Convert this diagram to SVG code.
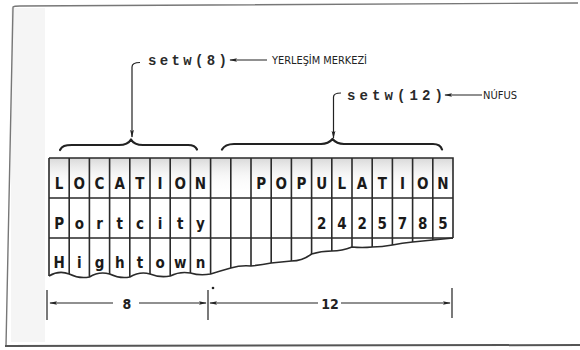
<svg xmlns="http://www.w3.org/2000/svg" width="580" height="350" viewBox="0 0 580 350">
  <defs>
    <linearGradient id="shade" x1="0" y1="0" x2="0" y2="1">
      <stop offset="0" stop-color="#c8c8c8" stop-opacity="0.7"/>
      <stop offset="0.45" stop-color="#e6e6e6" stop-opacity="0.3"/>
      <stop offset="1" stop-color="#ffffff" stop-opacity="0"/>
    </linearGradient>
    <marker id="ah" viewBox="0 0 10 6" refX="9" refY="3" markerWidth="8" markerHeight="4.8" markerUnits="userSpaceOnUse" orient="auto">
      <path d="M0,0.6 L10,3 L0,5.4 L2,3 Z" fill="#222"/>
    </marker>
    <style>
      .frame { fill: none; stroke: #777; stroke-width: 1.4; }
      .grid { fill: none; stroke: #2a2a2a; stroke-width: 1.6; }
      .cell { font-family: "Liberation Sans Narrow", "DejaVu Sans Condensed", "Liberation Sans", sans-serif; font-weight: bold; font-size: 15px; fill: #1a1a1a; text-anchor: middle; }
      .code { font-family: "Liberation Mono", "DejaVu Sans Mono", monospace; font-weight: bold; font-size: 14px; fill: #2a2a2a; }
      .lab { font-family: "Liberation Sans Narrow", "DejaVu Sans Condensed", "Liberation Sans", sans-serif; font-size: 11px; fill: #222; }
      .dim { font-family: "Liberation Sans Narrow", "DejaVu Sans Condensed", "Liberation Sans", sans-serif; font-weight: bold; font-size: 14px; fill: #222; text-anchor: middle; }
      .ln { fill: none; stroke: #222; stroke-width: 1.2; }
      .brace { fill: none; stroke: #222; stroke-width: 2.2; stroke-linecap: round; stroke-linejoin: round; }
    </style>
  </defs>

  <rect width="580" height="350" fill="#ffffff"/>

  <g id="page-frame">
    <rect x="11" y="8" width="34" height="334" fill="#ececec" opacity="0.55"/>
    <path class="frame" d="M6,346 L13,7 Q14,6 20,6 L578,3"/>
    <path d="M5,346 L580,345" fill="none" stroke="#555" stroke-width="2"/>
  </g>

  <g id="table">
    <rect x="49" y="158" width="404" height="40" fill="url(#shade)"/>
    <path class="grid" d="M49,158 H453 V238 M49,198 H453 M49,238 H453 M49,158 V276"/>
    <path class="grid" d="M49,276 Q59,270 69.2,274 Q79,279 89.4,277 Q99,271 109.6,274 Q120,279 129.8,277 Q140,271 150,274 Q160,278 170.2,276 Q180,271 190.4,273 Q200,276 210.6,274 Q220,271 230.8,268 Q241,265 251,266 Q261,265 271.2,263 Q281,262 291.4,261 Q302,261 311.6,254 Q321,251 331.8,251 Q342,251 352,247 Q362,248 372.2,247 Q382,247 392.4,245 Q402,243 412.6,242 Q423,241 432.8,240 Q443,239 453,238"/>
    <path class="grid" d="M69.2,158 V274 M89.4,158 V277 M109.6,158 V274 M129.8,158 V277 M150,158 V274 M170.2,158 V276 M190.4,158 V273 M210.6,158 V274 M230.8,158 V268 M251,158 V266 M271.2,158 V263 M291.4,158 V261 M311.6,158 V254 M331.8,158 V251 M352,158 V247 M372.2,158 V247 M392.4,158 V245 M412.6,158 V242 M432.8,158 V240"/>

    <g id="row-header">
      <text class="cell" x="59.1" y="189">L</text>
      <text class="cell" x="79.3" y="189">O</text>
      <text class="cell" x="99.5" y="189">C</text>
      <text class="cell" x="119.7" y="189">A</text>
      <text class="cell" x="139.9" y="189">T</text>
      <text class="cell" x="160.1" y="189">I</text>
      <text class="cell" x="180.3" y="189">O</text>
      <text class="cell" x="200.5" y="189">N</text>
      <text class="cell" x="261.1" y="189">P</text>
      <text class="cell" x="281.3" y="189">O</text>
      <text class="cell" x="301.5" y="189">P</text>
      <text class="cell" x="321.7" y="189">U</text>
      <text class="cell" x="341.9" y="189">L</text>
      <text class="cell" x="362.1" y="189">A</text>
      <text class="cell" x="382.3" y="189">T</text>
      <text class="cell" x="402.5" y="189">I</text>
      <text class="cell" x="422.7" y="189">O</text>
      <text class="cell" x="442.9" y="189">N</text>
    </g>
    <g id="row-portcity">
      <text class="cell" x="59.1" y="229">P</text>
      <text class="cell" x="79.3" y="229">o</text>
      <text class="cell" x="99.5" y="229">r</text>
      <text class="cell" x="119.7" y="229">t</text>
      <text class="cell" x="139.9" y="229">c</text>
      <text class="cell" x="160.1" y="229">i</text>
      <text class="cell" x="180.3" y="229">t</text>
      <text class="cell" x="200.5" y="229">y</text>
      <text class="cell" x="321.7" y="229">2</text>
      <text class="cell" x="341.9" y="229">4</text>
      <text class="cell" x="362.1" y="229">2</text>
      <text class="cell" x="382.3" y="229">5</text>
      <text class="cell" x="402.5" y="229">7</text>
      <text class="cell" x="422.7" y="229">8</text>
      <text class="cell" x="442.9" y="229">5</text>
    </g>
    <g id="row-hightown">
      <text class="cell" x="59.1" y="268">H</text>
      <text class="cell" x="79.3" y="268">i</text>
      <text class="cell" x="99.5" y="268">g</text>
      <text class="cell" x="119.7" y="268">h</text>
      <text class="cell" x="139.9" y="268">t</text>
      <text class="cell" x="160.1" y="268">o</text>
      <text class="cell" x="180.3" y="268">w</text>
      <text class="cell" x="200.5" y="268">n</text>
    </g>
  </g>

  <g id="brace-location">
    <path class="brace" d="M60,150 C62,146 65,145 72,145 L119,145 C125,145 129,143 131,139.5 C133,143 137,145 143,145 L188,145 C194,145 196,147 197,149.5"/>
  </g>
  <g id="brace-population">
    <path class="brace" d="M222,149.5 C224,146 227,144 234,144 L321,144 C327,144 330,142 332.5,139 C335,142 338,144 344,144 L433,144 C439,144 441,146 442,149.5"/>
  </g>

  <g id="setw8">
    <text class="code" x="148" y="65" textLength="79" lengthAdjust="spacing">setw(8)</text>
  </g>
  <g id="label-yerlesim">
    <text class="lab" x="272" y="64" textLength="95" lengthAdjust="spacingAndGlyphs">YERLEŞİM MERKEZİ</text>
  </g>
  <g id="setw12">
    <text class="code" x="347" y="100" textLength="96" lengthAdjust="spacing">setw(12)</text>
  </g>
  <g id="label-nufus">
    <text class="lab" x="483" y="99" textLength="34" lengthAdjust="spacingAndGlyphs">NÚFUS</text>
  </g>

  <g id="connectors">
    <path class="ln" d="M140,62.5 Q132,62.5 132,67 L132,137" marker-end="url(#ah)"/>
    <path class="ln" d="M341,93 Q333.5,93 333.5,97 L333.5,138" marker-end="url(#ah)"/>
    <path class="ln" d="M267,60 L230,60" marker-end="url(#ah)"/>
    <path class="ln" d="M482,95 L445,95" marker-end="url(#ah)"/>
  </g>

  <g id="dimensions">
    <path class="ln" d="M47,290 V320 M208,290 V320 M452,288 V318"/>
    <path class="ln" d="M113,303 H50" marker-end="url(#ah)"/>
    <path class="ln" d="M139,303 H206" marker-end="url(#ah)"/>
    <path class="ln" d="M318,303 H210" marker-end="url(#ah)"/>
    <path class="ln" d="M341,303 H450" marker-end="url(#ah)"/>
    <circle cx="213" cy="288" r="1.3" fill="#222"/>
    <text class="dim" x="127" y="309">8</text>
    <text class="dim" x="330" y="309">12</text>
  </g>
</svg>
